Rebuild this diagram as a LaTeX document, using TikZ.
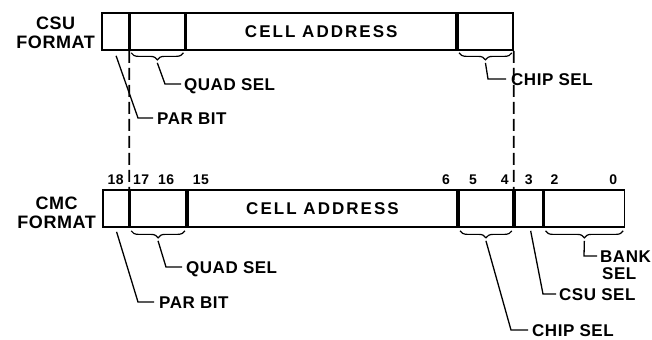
\documentclass[tikz,border=0pt]{standalone}
\usepackage{fontspec}
\setmainfont{Liberation Sans}[LetterSpace=3]
\usepackage{tikz}
\usetikzlibrary{positioning,decorations.pathreplacing}

\tikzset{
  field/.style = {draw, line width=1.7bp, minimum height=37bp, inner sep=0pt, anchor=west},
  lbl/.style = {font=\bfseries\fontsize{17bp}{19bp}\selectfont, inner sep=0pt, text height=12.5bp, text depth=0pt, anchor=west},
  fmt/.style = {font=\bfseries\fontsize{18bp}{19bp}\selectfont, align=center, inner sep=0pt, anchor=east},
  bitno/.style = {font=\bfseries\fontsize{14bp}{15bp}\selectfont, inner sep=0pt, anchor=base},
  selbrace/.style = {decorate, decoration={brace, mirror, amplitude=7bp}, line width=1.2bp},
  leader/.style = {line width=1.3bp},
  guide/.style = {line width=1.7bp, dash pattern=on 12bp off 5bp}
}
\newcommand{\celltext}{\addfontfeature{LetterSpace=12}CELL ADDRESS}

\begin{document}
\begin{tikzpicture}[x=1bp, y=-1bp]
  \useasboundingbox (0,0) rectangle (652,339);
  % CSU word
  \node[field, minimum width=26.5bp] (tpar) at (101,31.5) {};
  \node[field, minimum width=54.5bp] (tquad) at (tpar.east) {};
  \node[field, minimum width=270bp] (tcell) at (tquad.east) {};
  \node[field, minimum width=55bp] (tchip) at (tcell.east) {};
  \node[lbl, anchor=center] at (tcell.center) {\celltext};
  \node[fmt] (tfmt) at ([xshift=-6bp,yshift=-1bp]tpar.west) {CSU\\FORMAT};

  % CMC word
  \node[field, minimum width=25.5bp] (bpar) at (102,208.5) {};
  \node[field, minimum width=56bp] (bquad) at (bpar.east) {};
  \node[field, minimum width=269.5bp] (bcell) at (bquad.east) {};
  \node[field, minimum width=54bp] (bchip) at (bcell.east) {};
  \node[field, minimum width=28bp] (bcsu) at (bchip.east) {};
  \node[field, minimum width=80bp] (bbank) at (bcsu.east) {};
  \node[lbl, anchor=center] at (bcell.center) {\celltext};
  \node[fmt] (bfmt) at ([xshift=-6bp,yshift=-4bp]bpar.west) {CMC\\FORMAT};

  \node[bitno] at ([yshift=5bp]bpar.north) {18};
  \node[bitno] at ([xshift=12bp,yshift=5bp]bquad.north west) {17};
  \node[bitno] at ([xshift=37bp,yshift=5bp]bquad.north west) {16};
  \node[bitno] at ([xshift=14bp,yshift=5bp]bcell.north west) {15};
  \node[bitno] at ([xshift=-12bp,yshift=5bp]bcell.north east) {6};
  \node[bitno] at ([xshift=15bp,yshift=5bp]bchip.north west) {5};
  \node[bitno] at ([xshift=-9bp,yshift=5bp]bchip.north east) {4};
  \node[bitno] at ([xshift=15bp,yshift=5bp]bcsu.north west) {3};
  \node[bitno] at ([xshift=11bp,yshift=5bp]bbank.north west) {2};
  \node[bitno] at ([xshift=-12bp,yshift=5bp]bbank.north east) {0};

  \draw[guide] (tpar.south east) -- (bpar.north east);
  \draw[guide] (tchip.south east) -- (bchip.north east);

  % braces
  \draw[selbrace] ([xshift=2bp,yshift=-2bp]tquad.south west) -- ([xshift=-2bp,yshift=-2bp]tquad.south east);
  \draw[selbrace] ([xshift=2bp,yshift=-2bp]tchip.south west) -- ([xshift=-2bp,yshift=-2bp]tchip.south east);
  \draw[selbrace] ([xshift=2bp,yshift=-3bp]bquad.south west) -- ([xshift=-2bp,yshift=-3bp]bquad.south east);
  \draw[selbrace] ([xshift=2bp,yshift=-3bp]bchip.south west) -- ([xshift=-2bp,yshift=-3bp]bchip.south east);
  \draw[selbrace] ([xshift=2bp,yshift=-3bp]bbank.south west) -- ([xshift=-2bp,yshift=-3bp]bbank.south east);

  \coordinate (tquadtip) at ([yshift=-12bp]tquad.south);
  \coordinate (tpartop) at ([xshift=1bp,yshift=-5bp]tpar.south);
  \coordinate (tchiptip) at ([yshift=-12bp]tchip.south);
  \coordinate (bquadtip) at ([yshift=-13bp]bquad.south);
  \coordinate (bpartop) at ([xshift=1bp,yshift=-4bp]bpar.south);
  \coordinate (bchiptip) at ([yshift=-13bp]bchip.south);
  \coordinate (bcsutop) at ([xshift=2bp,yshift=-3bp]bcsu.south);
  \coordinate (bbanktip) at ([yshift=-13bp]bbank.south);

  % labels
  \node[lbl] (tquadlbl) at (184,84) {QUAD SEL};
  \node[lbl] (tparlbl) at (157,118) {PAR BIT};
  \node[lbl] (tchiplbl) at (511,79) {CHIP SEL};
  \node[lbl] (bquadlbl) at (186,267) {QUAD SEL};
  \node[lbl] (bparlbl) at (159,302) {PAR BIT};
  \node[lbl] (bchiplbl) at (532,330) {CHIP SEL};
  \node[lbl] (bcsulbl) at (559,294) {CSU SEL};
  \node[lbl] (bbanklbl) at (600,256) {BANK};
  \node[lbl] (bsellbl) at (602,273) {SEL};

  \draw[leader] (tquadtip) -- ([xshift=-19bp]tquadlbl.west) -- ([xshift=-3bp]tquadlbl.west);
  \draw[leader] (tpartop) -- ([xshift=-19bp]tparlbl.west) -- ([xshift=-4bp]tparlbl.west);
  \draw[leader] (tchiptip) -- ([xshift=-23bp]tchiplbl.west) -- ([xshift=-5bp]tchiplbl.west);
  \draw[leader] (bquadtip) -- ([xshift=-20bp]bquadlbl.west) -- ([xshift=-4bp]bquadlbl.west);
  \draw[leader] (bpartop) -- ([xshift=-21bp]bparlbl.west) -- ([xshift=-5bp]bparlbl.west);
  \draw[leader] (bchiptip) -- ([xshift=-21bp]bchiplbl.west) -- ([xshift=-4bp]bchiplbl.west);
  \draw[leader] (bcsutop) -- ([xshift=-16bp]bcsulbl.west) -- ([xshift=-3bp]bcsulbl.west);
  \draw[leader] (bbanktip) -- ([xshift=-16bp]bbanklbl.west) -- ([xshift=-3bp]bbanklbl.west);
\end{tikzpicture}
\end{document}
